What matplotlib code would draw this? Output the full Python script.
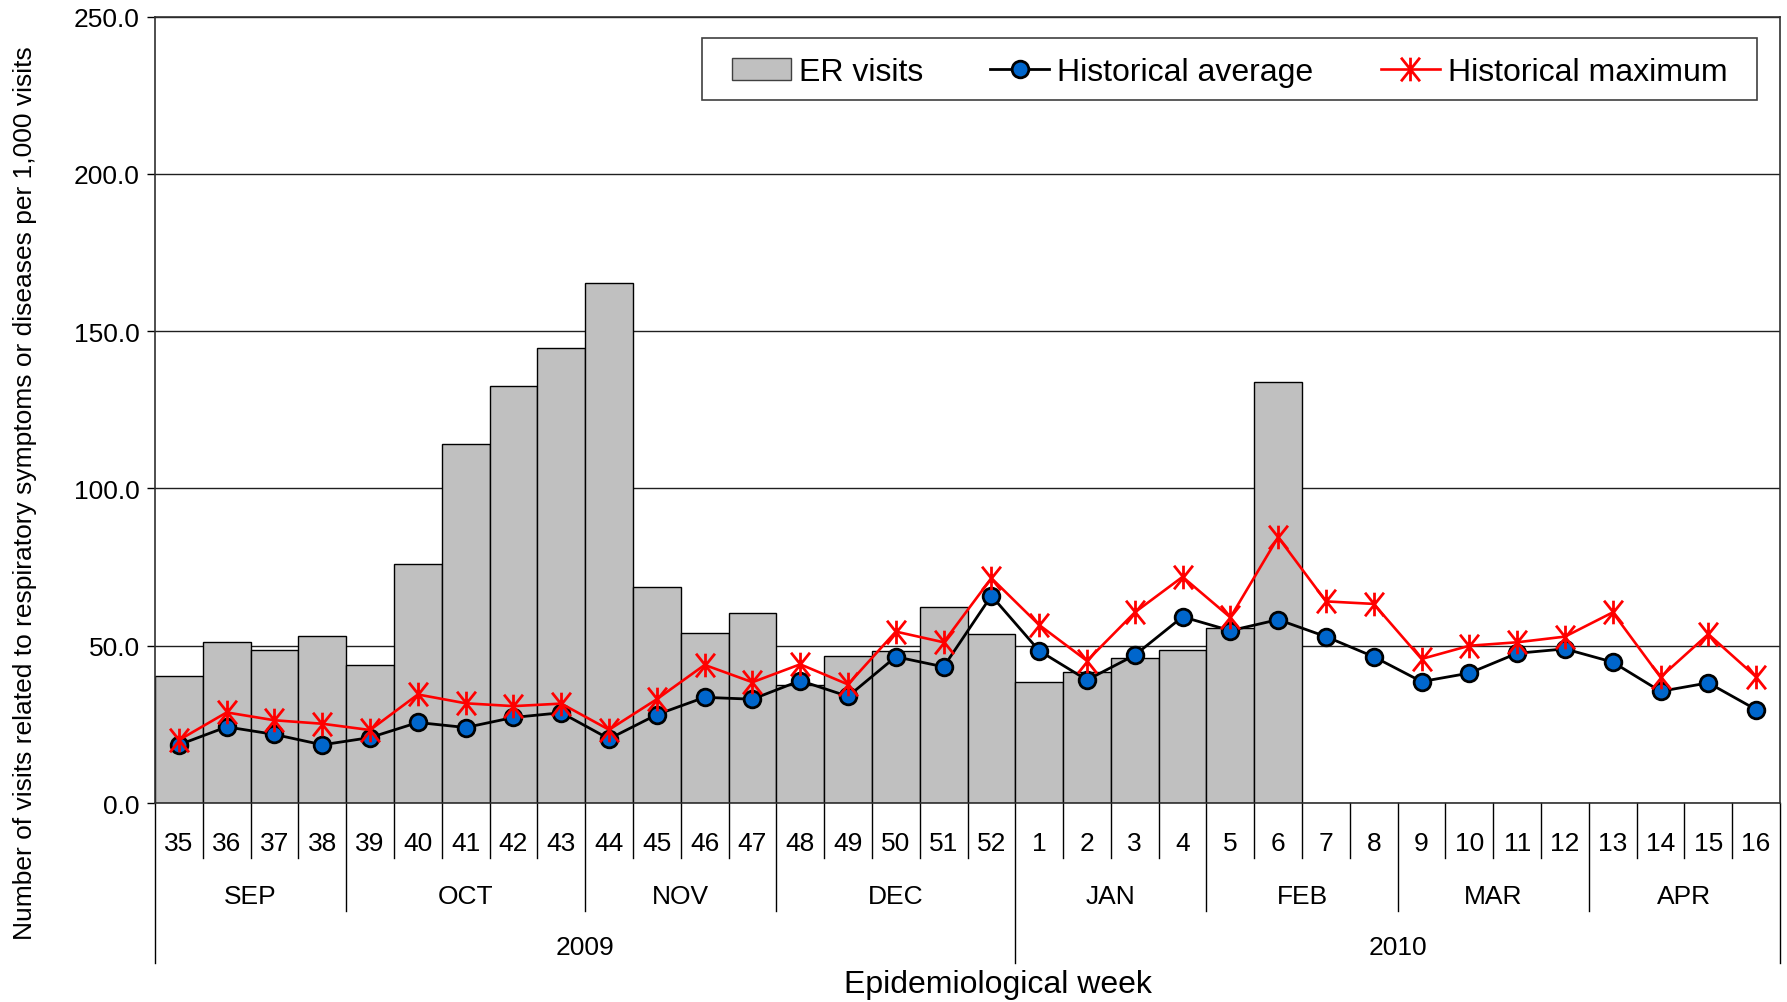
import matplotlib
matplotlib.use('Agg')
import matplotlib.pyplot as plt
import matplotlib.transforms as mtransforms
from matplotlib.path import Path
from matplotlib.patches import Patch, Rectangle
from matplotlib.lines import Line2D
import numpy as np

plt.rcParams['font.family'] = ['Liberation Sans', 'DejaVu Sans']

weeks = [35, 36, 37, 38, 39, 40, 41, 42, 43, 44, 45, 46, 47, 48, 49, 50, 51, 52,
         1, 2, 3, 4, 5, 6, 7, 8, 9, 10, 11, 12, 13, 14, 15, 16]
months = ['SEP', 'OCT', 'NOV', 'DEC', 'JAN', 'FEB', 'MAR', 'APR']
month_lengths = [4, 5, 4, 5, 4, 4, 4, 4]
years = ['2009', '2010']
year_lengths = [18, 16]

nan = float('nan')
er_visits = [40.4, 51.2, 48.8, 53.0, 43.8, 76.0, 114.3, 132.5, 144.7, 165.4, 68.7, 54.0,
             60.4, 37.5, 46.8, 48.3, 62.2, 53.6,
             38.5, 41.7, 46.0, 48.8, 55.5, 134.0,
             nan, nan, nan, nan, nan, nan, nan, nan, nan, nan]
hist_avg = [18.5, 24.2, 21.8, 18.5, 20.8, 25.6, 24.0, 27.2, 28.7, 20.4, 28.1, 33.6,
            33.0, 38.9, 33.9, 46.5, 43.3, 65.9,
            48.4, 39.1, 47.0, 59.2, 54.8, 58.3, 52.9, 46.5, 38.6, 41.3, 47.6, 49.0,
            44.8, 35.5, 38.2, 29.7]
hist_max = [20.0, 28.8, 26.3, 25.2, 23.2, 34.5, 31.7, 30.8, 31.6, 23.3, 33.0, 43.9,
            38.4, 44.1, 37.7, 54.5, 51.1, 71.5,
            56.6, 45.2, 60.6, 71.9, 59.0, 84.5, 64.1, 63.3, 45.8, 50.0, 51.1, 52.9,
            60.6, 40.0, 53.7, 40.1]

W, H = 1787, 1003
fig = plt.figure(figsize=(W / 100, H / 100), dpi=100)
ax_l, ax_r, ax_t, ax_b = 155, 1780, 17.7, 804
ax = fig.add_axes([ax_l / W, 1 - ax_b / H, (ax_r - ax_l) / W, (ax_b - ax_t) / H])

star = Path([(0, -1), (0, 1), (-0.8, -1), (0.8, 1), (-0.8, 1), (0.8, -1)],
            [Path.MOVETO, Path.LINETO, Path.MOVETO, Path.LINETO, Path.MOVETO, Path.LINETO])

x = np.arange(len(weeks))
ax.bar(x, er_visits, width=1.0, color='#C0C0C0', edgecolor='black', linewidth=1.0, zorder=2)
ax.plot(x, hist_avg, color='black', lw=2.0, marker='o', ms=12, mfc='#0066CC',
        mec='black', mew=2.0, zorder=4)
ax.plot(x, hist_max, color='red', lw=1.9, marker=star, ms=17, mec='red', mew=2.0, zorder=5)

ax.set_xlim(-0.5, len(weeks) - 0.5)
ax.set_ylim(0, 250)
yt = np.arange(0, 251, 50)
ax.set_yticks(yt)
ax.set_yticklabels([f'{v:.1f}' for v in yt], fontsize=19)
ax.yaxis.grid(True, color='#202020', lw=1.0)
ax.set_axisbelow(True)
ax.set_xticks([])
ax.tick_params(axis='y', length=6, width=1, direction='out', pad=5)
for s in ax.spines.values():
    s.set_color('#303030')
    s.set_linewidth(1.2)

trans = mtransforms.blended_transform_factory(ax.transData, ax.transAxes)
axh = ax_b - ax_t
def yax(px):
    return -(px - ax_b) / axh

week_bot = yax(859)
month_bot = yax(911.7)
year_bot = yax(964)

month_bounds = set(np.cumsum([0] + month_lengths))
year_bounds = set(np.cumsum([0] + year_lengths))
for b in range(len(weeks) + 1):
    if b in year_bounds:
        yb = year_bot
    elif b in month_bounds:
        yb = month_bot
    else:
        yb = week_bot
    ax.plot([b - 0.5, b - 0.5], [0, yb], color='black', lw=1.0, transform=trans, clip_on=False)

for i, w in enumerate(weeks):
    ax.text(i, yax(844), str(w), transform=trans, ha='center', va='center', fontsize=19)

start = 0
for m, n in zip(months, month_lengths):
    ax.text(start + n / 2 - 0.5, yax(897), m, transform=trans, ha='center', va='center', fontsize=19)
    start += n
start = 0
for yname, n in zip(years, year_lengths):
    ax.text(start + n / 2 - 0.5, yax(948), yname, transform=trans, ha='center', va='center', fontsize=19)
    start += n

fig.text(998 / W, 1 - 985 / H, 'Epidemiological week', ha='center', va='center', fontsize=23)
fig.text(25 / W, 1 - 493 / H,
         'Number of visits related to respiratory symptoms or diseases per 1,000 visits',
         rotation=90, ha='center', va='center', fontsize=19)

# legend
handles = [Patch(facecolor='#C0C0C0', edgecolor='#404040', linewidth=1.0),
           Line2D([], [], color='black', lw=2.0, marker='o', ms=12, mfc='#0066CC', mec='black', mew=2.0),
           Line2D([], [], color='red', lw=1.9, marker=star, ms=17, mec='red', mew=2.0)]
labels = ['ER visits', 'Historical average', 'Historical maximum']
bx0, bx1, by0, by1 = 702, 1757, 39.3, 101
fig.add_artist(Rectangle((bx0 / W, 1 - by1 / H), (bx1 - bx0) / W, (by1 - by0) / H,
                         transform=fig.transFigure, facecolor='white', edgecolor='#404040',
                         lw=1.2, zorder=10))
leg = fig.legend(handles, labels, ncol=3, loc='center',
                 bbox_to_anchor=((bx0 + bx1) / 2 / W, 1 - ((by0 + by1) / 2 + 3) / H),
                 frameon=False, fontsize=23, handlelength=1.85, handletextpad=0.25,
                 columnspacing=2.1, borderpad=0.2)
leg.set_zorder(11)

fig.savefig('out.png', dpi=100)
